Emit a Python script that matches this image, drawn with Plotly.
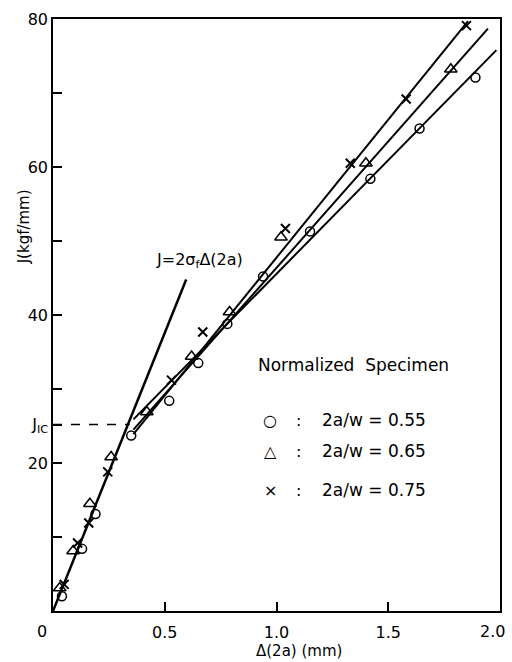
import plotly.graph_objects as go

# ---- data ----
x_055 = [0.04, 0.13, 0.19, 0.35, 0.52, 0.65, 0.78, 0.94, 1.15, 1.42, 1.64, 1.89]
y_055 = [2.0, 8.4, 13.1, 23.7, 28.4, 33.5, 38.8, 45.2, 51.3, 58.4, 65.2, 72.1]

x_065 = [0.03, 0.09, 0.165, 0.26, 0.42, 0.62, 0.79, 1.02, 1.40, 1.78]
y_065 = [3.1, 8.1, 14.5, 20.8, 26.9, 34.4, 40.4, 50.5, 60.5, 73.2]

x_075 = [0.05, 0.11, 0.16, 0.245, 0.53, 0.67, 1.04, 1.33, 1.58, 1.85]
y_075 = [3.6, 9.2, 11.9, 18.8, 31.2, 37.7, 51.7, 60.5, 69.2, 79.1]

# blunting line J = 2 sigma_f * delta(2a)
blunt_x = [0.0, 0.596]
blunt_y = [0.0, 44.8]

# fitted lines
fit_055_x = [0.36, 1.984]
fit_055_y = [25.9, 75.8]
fit_065_x = [0.36, 1.946]
fit_065_y = [24.5, 78.7]
fit_075_x = [0.36, 1.857]
fit_075_y = [23.9, 79.7]

jic_value = 25.2
jic_x = 0.343

y_tickvals = [10, 20, jic_value, 30, 40, 50, 60, 70, 80]
y_ticktext = ["", "20", "J<sub>IC</sub>", "", "40", "", "60", "", "80"]
x_tickvals = [0.5, 1.0, 1.5]
x_ticktext = ["0.5", "1.0", "1.5"]

FONT = "DejaVu Sans"
BLACK = "black"

fig = go.Figure()

# lines
for lx, ly, w in [(fit_055_x, fit_055_y, 2), (fit_065_x, fit_065_y, 2),
                  (fit_075_x, fit_075_y, 2), (blunt_x, blunt_y, 2.5)]:
    fig.add_trace(go.Scatter(x=lx, y=ly, mode="lines",
                             line=dict(color=BLACK, width=w), showlegend=False,
                             hoverinfo="skip"))

# dashed Jic line
fig.add_trace(go.Scatter(x=[0, jic_x], y=[jic_value, jic_value], mode="lines",
                         line=dict(color=BLACK, width=1.5, dash="dash"),
                         showlegend=False, hoverinfo="skip"))

# markers
fig.add_trace(go.Scatter(x=x_055, y=y_055, mode="markers", name="2a/w = 0.55",
                         marker=dict(symbol="circle-open", size=9, color=BLACK,
                                     line=dict(width=1.5, color=BLACK)),
                         showlegend=False))
fig.add_trace(go.Scatter(x=x_065, y=y_065, mode="markers", name="2a/w = 0.65",
                         marker=dict(symbol="triangle-up-open", size=11, color=BLACK,
                                     line=dict(width=1.5, color=BLACK)),
                         showlegend=False))
fig.add_trace(go.Scatter(x=x_075, y=y_075, mode="markers", name="2a/w = 0.75",
                         marker=dict(symbol="x-thin-open", size=9, color=BLACK,
                                     line=dict(width=2, color=BLACK)),
                         showlegend=False))

annotations = []
# y title
annotations.append(dict(text="J(kgf/mm)", xref="paper", yref="y", x=-0.064, y=51.9,
                        xanchor="center", yanchor="middle",
                        textangle=-90, showarrow=False,
                        font=dict(family=FONT, size=15, color=BLACK)))
# x title
annotations.append(dict(text="Δ(2a) (mm)", xref="x", yref="paper", x=1.10, y=-0.067,
                        xanchor="center", yanchor="middle",
                        showarrow=False, font=dict(family=FONT, size=15, color=BLACK)))
# origin label
annotations.append(dict(text="0", xref="paper", yref="paper", x=-0.024, y=-0.035,
                        xanchor="center", yanchor="middle",
                        showarrow=False, font=dict(family=FONT, size=16, color=BLACK)))
# right-end x label (would be cut at the page edge as a tick label)
annotations.append(dict(text="2.0", xref="paper", yref="paper", x=0.984, y=-0.035,
                        xanchor="center", yanchor="middle",
                        showarrow=False, font=dict(family=FONT, size=16, color=BLACK)))
# blunting line label
annotations.append(dict(text="J=2σ<sub>f</sub>Δ(2a)", xref="x", yref="y", x=0.655, y=47.3,
                        showarrow=False, font=dict(family=FONT, size=16, color=BLACK)))
# legend block
annotations.append(dict(text="Normalized  Specimen", xref="x", yref="y", x=1.345, y=33.2,
                        showarrow=False, font=dict(family=FONT, size=17, color=BLACK)))
rows = [("○", "2a/w = 0.55", 25.8), ("△", "2a/w = 0.65", 21.6), ("×", "2a/w = 0.75", 16.3)]
for sym, label, yy in rows:
    annotations.append(dict(text=sym, xref="x", yref="y", x=(271 - 53) / 224.5, y=yy,
                            showarrow=False, font=dict(family=FONT, size=16, color=BLACK)))
    annotations.append(dict(text=":", xref="x", yref="y", x=(300 - 53) / 224.5, y=yy,
                            showarrow=False, font=dict(family=FONT, size=16, color=BLACK)))
    annotations.append(dict(text=label, xref="x", yref="y", x=(321 - 53) / 224.5, y=yy,
                            xanchor="left", showarrow=False,
                            font=dict(family=FONT, size=17, color=BLACK)))

fig.update_layout(
    width=512, height=662,
    margin=dict(l=53, r=10, t=12, b=51),
    paper_bgcolor="white", plot_bgcolor="white",
    showlegend=False,
    annotations=annotations,
    font=dict(family=FONT, color=BLACK),
)
fig.update_xaxes(range=[0, 2.0], showgrid=False, zeroline=False,
                 showline=True, linecolor=BLACK, linewidth=1.5, mirror=True,
                 ticks="inside", ticklen=9, tickwidth=1.5, tickcolor=BLACK,
                 tickvals=x_tickvals, ticktext=x_ticktext, ticklabelstandoff=6,
                 tickfont=dict(family=FONT, size=16, color=BLACK))
fig.update_yaxes(range=[0, 80], showgrid=False, zeroline=False,
                 showline=True, linecolor=BLACK, linewidth=1.5, mirror=True,
                 ticks="inside", ticklen=9, tickwidth=1.5, tickcolor=BLACK,
                 tickvals=y_tickvals, ticktext=y_ticktext,
                 tickfont=dict(family=FONT, size=16, color=BLACK))

fig.write_html("out.html")
